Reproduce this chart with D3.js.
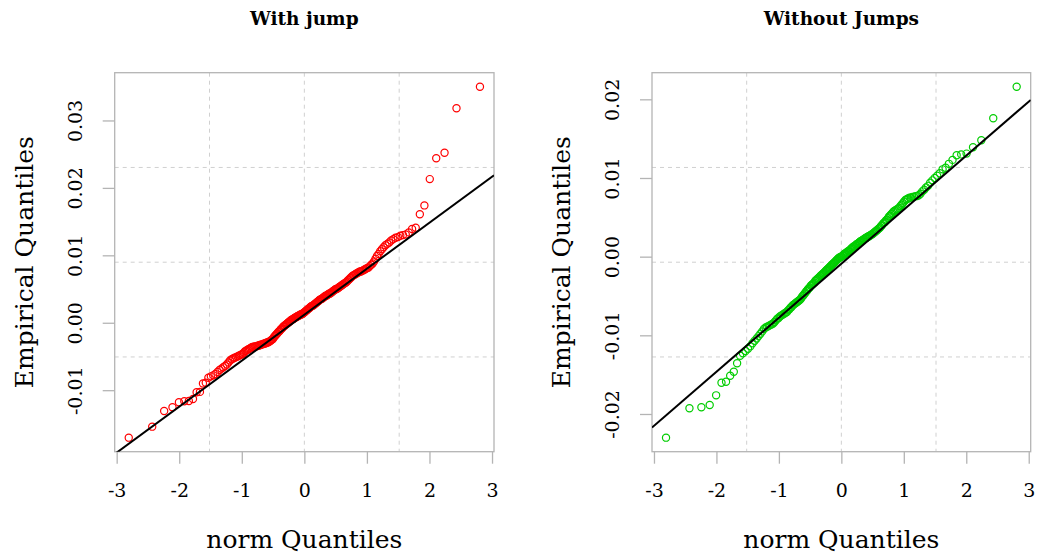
<!DOCTYPE html>
<html>
<head>
<meta charset="utf-8">
<script src="https://cdn.jsdelivr.net/npm/d3@7"></script>
<style>
  html, body { margin: 0; padding: 0; background: #fff; }
  svg { display: block; }
  text { font-family: "DejaVu Serif", serif; fill: #000; }
</style>
</head>
<body>
<svg id="chart" width="1037" height="557"></svg>
<script>
// Theoretical normal quantiles (shared x for both panels, n = 200)
const normQuantiles = [
  -2.807,-2.432,-2.241,-2.108,-2.005,-1.919,-1.846,-1.780,-1.722,-1.669,
  -1.621,-1.576,-1.534,-1.495,-1.457,-1.422,-1.388,-1.356,-1.326,-1.296,
  -1.267,-1.240,-1.213,-1.187,-1.162,-1.138,-1.115,-1.092,-1.069,-1.047,
  -1.026,-1.005,-0.984,-0.964,-0.944,-0.925,-0.906,-0.887,-0.868,-0.850,
  -0.833,-0.815,-0.798,-0.781,-0.764,-0.747,-0.731,-0.714,-0.698,-0.682,
  -0.667,-0.651,-0.636,-0.620,-0.605,-0.590,-0.575,-0.561,-0.546,-0.532,
  -0.517,-0.503,-0.489,-0.475,-0.461,-0.447,-0.433,-0.419,-0.406,-0.392,
  -0.379,-0.366,-0.352,-0.339,-0.326,-0.313,-0.299,-0.286,-0.273,-0.260,
  -0.247,-0.235,-0.222,-0.209,-0.196,-0.184,-0.171,-0.158,-0.145,-0.133,
  -0.120,-0.107,-0.094,-0.082,-0.069,-0.056,-0.044,-0.031,-0.019,-0.006,
  0.006,0.019,0.031,0.044,0.056,0.069,0.082,0.094,0.107,0.120,
  0.133,0.145,0.158,0.171,0.184,0.196,0.209,0.222,0.235,0.247,
  0.260,0.273,0.286,0.299,0.313,0.326,0.339,0.352,0.366,0.379,
  0.392,0.406,0.419,0.433,0.447,0.461,0.475,0.489,0.503,0.517,
  0.532,0.546,0.561,0.575,0.590,0.605,0.620,0.636,0.651,0.667,
  0.682,0.698,0.714,0.731,0.747,0.764,0.781,0.798,0.815,0.833,
  0.850,0.868,0.887,0.906,0.925,0.944,0.964,0.984,1.005,1.026,
  1.047,1.069,1.092,1.115,1.138,1.162,1.187,1.213,1.240,1.267,
  1.296,1.326,1.356,1.388,1.422,1.457,1.495,1.534,1.576,1.621,
  1.669,1.722,1.780,1.846,1.919,2.005,2.108,2.241,2.432,2.807
];

// Empirical quantiles, "With jump"
const withJump = [
  -0.01704,-0.01541,-0.01308,-0.01253,-0.01179,-0.01165,-0.01160,-0.01130,-0.01030,-0.01025,
  -0.00900,-0.00889,-0.00815,-0.00795,-0.00780,-0.00760,-0.00730,-0.00700,-0.00680,-0.00660,
  -0.0064,-0.0062,-0.0059,-0.0056,-0.0054,-0.0053,-0.0052,-0.0051,-0.0050,-0.0049,
  -0.0048,-0.0047,-0.0046,-0.0044,-0.0042,-0.0041,-0.0040,-0.0039,-0.0038,-0.0037,
  -0.0036,-0.0036,-0.0035,-0.0035,-0.0035,-0.0034,-0.0034,-0.0033,-0.0033,-0.0032,
  -0.0032,-0.0031,-0.0031,-0.0030,-0.0030,-0.0029,-0.0029,-0.0028,-0.0027,-0.0026,
  -0.0025,-0.0024,-0.0022,-0.0020,-0.0019,-0.0017,-0.0016,-0.0014,-0.0013,-0.0012,
  -0.0010,-0.0009,-0.0008,-0.0006,-0.0005,-0.0004,-0.0003,-0.0002,-0.0001,0.0000,
  0.0001,0.0002,0.0003,0.0004,0.0005,0.0005,0.0006,0.0007,0.0008,0.0008,
  0.0009,0.0010,0.0010,0.0011,0.0012,0.0012,0.0013,0.0013,0.0014,0.0015,
  0.0016,0.0017,0.0018,0.0019,0.0020,0.0021,0.0022,0.0023,0.0024,0.0025,
  0.0025,0.0026,0.0027,0.0028,0.0029,0.0030,0.0031,0.0032,0.0033,0.0034,
  0.0035,0.0035,0.0036,0.0037,0.0038,0.0039,0.0040,0.0040,0.0041,0.0042,
  0.0043,0.0043,0.0044,0.0045,0.0046,0.0047,0.0048,0.0049,0.0050,0.0050,
  0.0051,0.0052,0.0053,0.0054,0.0055,0.0056,0.0057,0.0058,0.0059,0.0060,
  0.0061,0.0063,0.0064,0.0066,0.0067,0.0069,0.0070,0.0071,0.0072,0.0073,
  0.0074,0.0075,0.0076,0.0076,0.0077,0.0078,0.0079,0.0080,0.0081,0.0082,
  0.0084,0.0086,0.0088,0.0091,0.0095,0.0099,0.0102,0.0106,0.0109,0.0112,
  0.0115,0.0117,0.0119,0.0122,0.0124,0.0126,0.0127,0.0129,0.0130,0.0131,
  0.0134,0.0139,0.0141,0.0161,0.0174,0.0213,0.0244,0.0252,0.0318,0.0350
];

// Empirical quantiles, "Without Jumps"
const withoutJumps = [
  -0.02301,-0.01928,-0.01915,-0.01886,-0.01763,-0.01602,-0.01590,-0.01514,-0.01463,-0.01356,
  -0.01260,-0.01229,-0.01200,-0.01170,-0.01140,-0.01100,-0.01070,-0.01040,-0.01010,-0.00980,
  -0.0095,-0.0092,-0.0090,-0.0089,-0.0088,-0.0087,-0.0086,-0.0085,-0.0083,-0.0081,
  -0.0079,-0.0078,-0.0076,-0.0075,-0.0074,-0.0073,-0.0072,-0.0071,-0.0070,-0.0068,
  -0.0067,-0.0065,-0.0064,-0.0062,-0.0061,-0.0060,-0.0059,-0.0058,-0.0057,-0.0056,
  -0.0055,-0.0054,-0.0052,-0.0050,-0.0049,-0.0047,-0.0046,-0.0044,-0.0043,-0.0041,
  -0.0040,-0.0039,-0.0037,-0.0036,-0.0035,-0.0034,-0.0033,-0.0031,-0.0030,-0.0029,
  -0.0028,-0.0027,-0.0026,-0.0025,-0.0024,-0.0023,-0.0022,-0.0021,-0.0020,-0.0019,
  -0.0018,-0.0017,-0.0016,-0.0015,-0.0014,-0.0013,-0.0012,-0.0011,-0.0010,-0.0009,
  -0.0008,-0.0007,-0.0006,-0.0005,-0.0004,-0.0003,-0.0002,-0.0001,-0.0001,0.0000,
  0.0000,0.0001,0.0002,0.0003,0.0004,0.0004,0.0005,0.0006,0.0007,0.0007,
  0.0008,0.0009,0.0010,0.0011,0.0012,0.0013,0.0013,0.0014,0.0015,0.0016,
  0.0016,0.0017,0.0018,0.0019,0.0020,0.0020,0.0021,0.0022,0.0022,0.0023,
  0.0024,0.0024,0.0025,0.0026,0.0026,0.0027,0.0028,0.0028,0.0029,0.0030,
  0.0031,0.0032,0.0033,0.0034,0.0035,0.0036,0.0037,0.0039,0.0040,0.0042,
  0.0043,0.0044,0.0046,0.0047,0.0049,0.0051,0.0052,0.0054,0.0055,0.0057,
  0.0058,0.0059,0.0060,0.0061,0.0062,0.0064,0.0066,0.0068,0.0070,0.0072,
  0.0073,0.0074,0.0075,0.0075,0.0076,0.0076,0.0077,0.0077,0.0078,0.0080,
  0.0083,0.0085,0.0088,0.0090,0.0094,0.0097,0.0100,0.0103,0.0106,0.0111,
  0.0113,0.0118,0.0123,0.0129,0.0130,0.0131,0.0139,0.0148,0.0176,0.0216
];

const titles = ["With jump", "Without Jumps"];
const xTicks = [-3, -2, -1, 0, 1, 2, 3];
const yTicksJump = [-0.01, 0.00, 0.01, 0.02, 0.03];
const yTicksNoJump = [-0.02, -0.01, 0.00, 0.01, 0.02];
// reference lines [intercept, slope]
const lineJump = [0.0012, 0.00682];
const lineNoJump = [-0.0009, 0.006868];
const xLabel = "norm Quantiles";
const yLabel = "Empirical Quantiles";

const svg = d3.select("#chart");

function rExtent(vals) {
  const [a, b] = d3.extent(vals);
  const pad = (b - a) * 0.04;
  return [a - pad, b + pad];
}

function panel(opt) {
  const { left, right, top, bottom, ys, yTicks, line, color, title, id } = opt;
  const x = d3.scaleLinear().domain(rExtent(normQuantiles)).range([left, right]);
  const y = d3.scaleLinear().domain(rExtent(ys)).range([bottom, top]);
  const g = svg.append("g");

  svg.append("clipPath").attr("id", id)
    .append("rect").attr("x", left).attr("y", top)
    .attr("width", right - left).attr("height", bottom - top);

  // grid (4 equal divisions)
  const gridC = "#d0d0d0";
  [0.25, 0.5, 0.75].forEach(f => {
    const gx = left + (right - left) * f;
    const gy = top + (bottom - top) * f;
    g.append("line").attr("x1", gx).attr("x2", gx).attr("y1", top).attr("y2", bottom)
      .attr("stroke", gridC).attr("stroke-width", 1).attr("stroke-dasharray", "4,4");
    g.append("line").attr("x1", left).attr("x2", right).attr("y1", gy).attr("y2", gy)
      .attr("stroke", gridC).attr("stroke-width", 1).attr("stroke-dasharray", "4,4");
  });

  // box
  g.append("rect").attr("x", left).attr("y", top)
    .attr("width", right - left).attr("height", bottom - top)
    .attr("fill", "none").attr("stroke", "#b4b4b4").attr("stroke-width", 1.3);

  // x axis
  const xa = g.append("g").attr("transform", `translate(0,${bottom})`)
    .call(d3.axisBottom(x).tickValues(xTicks).tickSize(12).tickPadding(20)
      .tickFormat(d => d < 0 ? "-" + Math.abs(d) : String(d)));
  xa.select(".domain").remove();
  xa.selectAll(".tick line").attr("stroke", "#b4b4b4").attr("stroke-width", 1.3);
  xa.selectAll(".tick text").attr("font-family", "DejaVu Serif").attr("font-size", 19)
    .attr("fill", "#111").attr("dy", "0.71em");

  // y axis
  const ya = g.append("g").attr("transform", `translate(${left},0)`)
    .call(d3.axisLeft(y).tickValues(yTicks).tickSize(12)
      .tickFormat(d => (d < 0 ? "-" : "") + Math.abs(d).toFixed(2)));
  ya.select(".domain").remove();
  ya.selectAll(".tick line").attr("stroke", "#b4b4b4").attr("stroke-width", 1.3);
  ya.selectAll(".tick text")
    .attr("font-family", "DejaVu Serif").attr("font-size", 19).attr("fill", "#111")
    .attr("x", null).attr("dy", null)
    .attr("text-anchor", "middle")
    .attr("transform", "translate(-33,0) rotate(-90)");

  // labels
  svg.append("text").attr("x", (left + right) / 2).attr("y", 548)
    .attr("text-anchor", "middle").attr("font-size", 25).text(xLabel);
  svg.append("text")
    .attr("transform", `translate(${left - 82},${(top + bottom) / 2}) rotate(-90)`)
    .attr("text-anchor", "middle").attr("font-size", 25).text(yLabel);
  svg.append("text").attr("x", (left + right) / 2).attr("y", 25)
    .attr("text-anchor", "middle").attr("font-size", 18.5).attr("font-weight", "bold")
    .text(title);

  // points
  g.append("g").selectAll("circle").data(ys).join("circle")
    .attr("cx", (d, i) => x(normQuantiles[i]))
    .attr("cy", d => y(d))
    .attr("r", 3.6)
    .attr("fill", "none").attr("stroke", color).attr("stroke-width", 1.2);

  // reference line
  const [x0, x1] = x.domain();
  g.append("line").attr("clip-path", `url(#${id})`)
    .attr("x1", x(x0)).attr("y1", y(line[0] + line[1] * x0))
    .attr("x2", x(x1)).attr("y2", y(line[0] + line[1] * x1))
    .attr("stroke", "#000").attr("stroke-width", 2);
}

panel({ left: 114.7, right: 494, top: 72.7, bottom: 451.7, ys: withJump,
  yTicks: yTicksJump, line: lineJump, color: "#ff0000", title: titles[0], id: "c1" });
panel({ left: 652, right: 1030.7, top: 72.7, bottom: 451.7, ys: withoutJumps,
  yTicks: yTicksNoJump, line: lineNoJump, color: "#00cd00", title: titles[1], id: "c2" });
</script>
</body>
</html>
